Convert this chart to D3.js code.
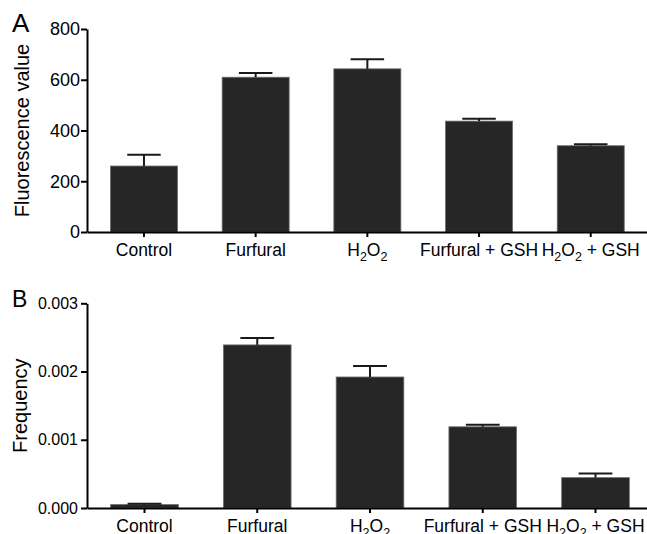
<!DOCTYPE html>
<html>
<head>
<meta charset="utf-8">
<script src="https://cdn.jsdelivr.net/npm/d3@7"></script>
<style>
  html, body { margin: 0; padding: 0; background: #fff; overflow: hidden; }
  svg { display: block; }
  text { font-family: "Liberation Sans", Arial, Helvetica, sans-serif; fill: #000; }
</style>
</head>
<body>
<svg id="chart" width="647" height="534"></svg>
<script>
// ---- data ----
const categories = ["Control", "Furfural", "H2O2", "Furfural + GSH", "H2O2 + GSH"];
const fluorescence = [260, 610, 643, 437, 340];
const fluorescenceErr = [44, 17, 38, 9, 6];
const frequency = [0.00005, 0.00239, 0.00192, 0.00119, 0.000445];
const frequencyErr = [0.000012, 0.0001, 0.00016, 0.00003, 0.00006];
const ticksA = [0, 200, 400, 600, 800];
const ticksB = [0, 0.001, 0.002, 0.003];

const svg = d3.select("#chart");

function drawLabel(sel, txt) {
  const parts = txt.split(/(?<=[A-Z])(\d)/).filter(p => p !== "");
  sel.text(null);
  let shifted = false;
  parts.forEach(p => {
    if (/^\d$/.test(p)) {
      sel.append("tspan").attr("font-size", 12.5).attr("dy", shifted ? 0 : 5).text(p);
      shifted = true;
    } else {
      const t = sel.append("tspan").text(p);
      if (shifted) { t.attr("dy", -5); shifted = false; }
    }
  });
}

function panel(cfg) {
  const g = svg.append("g");
  const x = d3.scaleBand().domain(categories).range(cfg.xRange)
    .paddingInner(0.4).paddingOuter(0.21);
  const y = d3.scaleLinear().domain(cfg.yDomain).range(cfg.yRange);

  // bars
  g.selectAll("rect.bar").data(categories).join("rect")
    .attr("class", "bar")
    .attr("x", d => x(d))
    .attr("width", x.bandwidth())
    .attr("y", (d, i) => y(cfg.values[i]))
    .attr("height", (d, i) => y(0) - y(cfg.values[i]))
    .attr("fill", "#262626")
    .attr("stroke", "#6e6e6e")
    .attr("stroke-width", 0.8);

  // error bars
  const capW = x.bandwidth() * 0.5;
  const eg = g.selectAll("g.err").data(categories).join("g").attr("class", "err");
  eg.append("line")
    .attr("x1", d => x(d) + x.bandwidth() / 2)
    .attr("x2", d => x(d) + x.bandwidth() / 2)
    .attr("y1", (d, i) => y(cfg.values[i]))
    .attr("y2", (d, i) => y(cfg.values[i] + cfg.errs[i]))
    .attr("stroke", "#1a1a1a").attr("stroke-width", 2);
  eg.append("line")
    .attr("x1", d => x(d) + x.bandwidth() / 2 - capW / 2)
    .attr("x2", d => x(d) + x.bandwidth() / 2 + capW / 2)
    .attr("y1", (d, i) => y(cfg.values[i] + cfg.errs[i]))
    .attr("y2", (d, i) => y(cfg.values[i] + cfg.errs[i]))
    .attr("stroke", "#1a1a1a").attr("stroke-width", 2);

  // y axis
  const ya = g.append("g").attr("transform", `translate(${cfg.xRange[0]},0)`)
    .call(d3.axisLeft(y).tickValues(cfg.ticks).tickFormat(cfg.fmt)
      .tickSizeInner(6).tickSizeOuter(0).tickPadding(cfg.tickPad));
  ya.select(".domain").attr("stroke", "#000").attr("stroke-width", 2);
  ya.selectAll(".tick line").attr("stroke", "#000").attr("stroke-width", 2);
  ya.selectAll(".tick text").attr("font-size", cfg.yTickFont)
    .attr("font-family", "Liberation Sans, Arial, sans-serif").attr("fill", "#000");

  // x axis
  const xa = g.append("g").attr("transform", `translate(0,${y(0)})`)
    .call(d3.axisBottom(x).tickSizeInner(5).tickSizeOuter(0).tickPadding(6));
  xa.select(".domain").attr("stroke", "#000").attr("stroke-width", 2);
  xa.selectAll(".tick line").attr("stroke", "#000").attr("stroke-width", 2);
  xa.selectAll(".tick text")
    .attr("font-size", 17.5)
    .attr("font-family", "Liberation Sans, Arial, sans-serif")
    .attr("fill", "#000")
    .attr("dy", null)
    .attr("y", 23.5)
    .each(function(d) { drawLabel(d3.select(this), d); });

  // y axis title
  const cy = (cfg.yRange[0] + cfg.yRange[1]) / 2;
  g.append("text")
    .attr("transform", `translate(${cfg.titleX},${cy}) rotate(-90)`)
    .attr("text-anchor", "middle")
    .attr("font-size", 20)
    .text(cfg.title);

  // panel letter
  g.append("text").attr("x", 12).attr("y", cfg.letterY)
    .attr("font-size", cfg.letterSize).text(cfg.letter);
}

panel({
  xRange: [87, 647.7], yDomain: [0, 800], yRange: [232, 29],
  values: fluorescence, errs: fluorescenceErr, ticks: ticksA,
  fmt: d3.format("d"), yTickFont: 18, tickPad: 1,
  title: "Fluorescence value", titleX: 28.5, letter: "A", letterY: 32, letterSize: 26
});

panel({
  xRange: [87, 653], yDomain: [0, 0.003], yRange: [508, 303.3],
  values: frequency, errs: frequencyErr, ticks: ticksB,
  fmt: d3.format(".3f"), yTickFont: 16, tickPad: 3,
  title: "Frequency", titleX: 26.5, letter: "B", letterY: 307, letterSize: 23
});
</script>
</body>
</html>
